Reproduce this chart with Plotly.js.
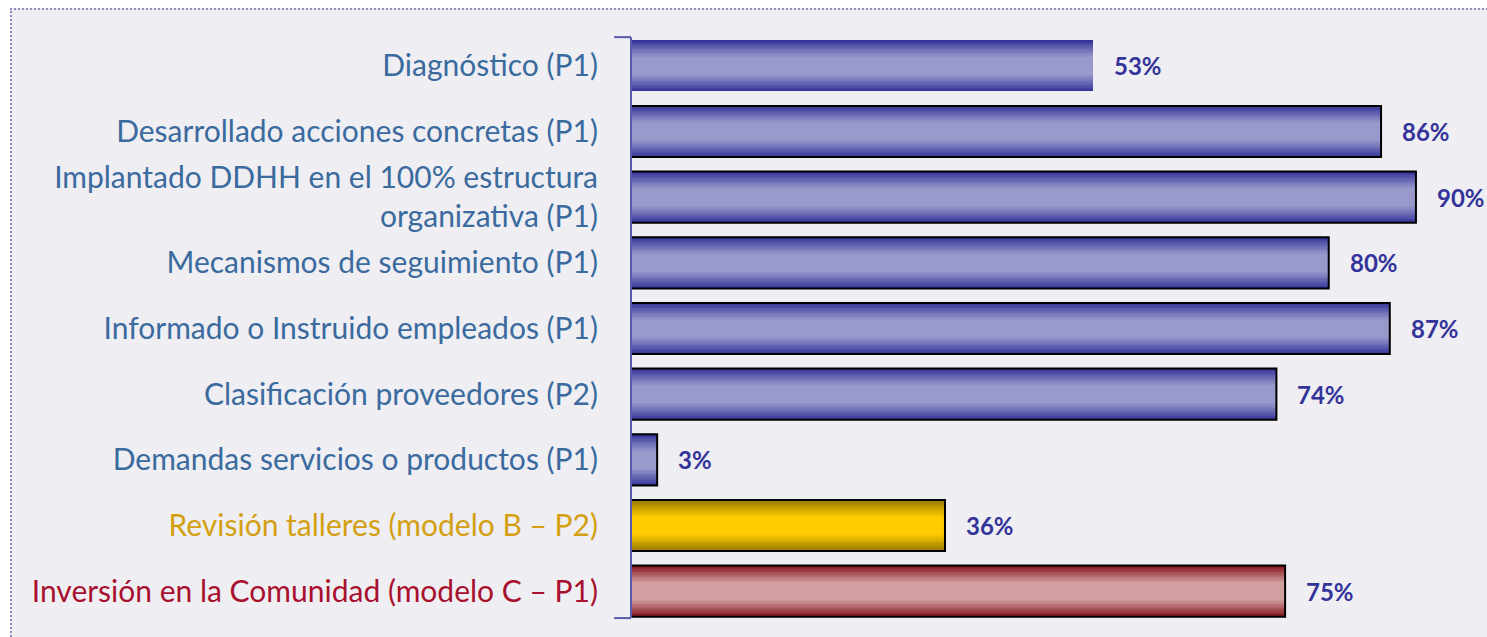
<!DOCTYPE html>
<html>
<head>
<meta charset="utf-8">
<script src="https://cdn.plot.ly/plotly-3.0.1.min.js"></script>
<style>
  html, body { margin: 0; padding: 0; background: #ffffff; }
  #frame { position: absolute; left: 10px; top: 8px; width: 1490px; height: 640px;
           border: 2px dotted #8c8cbf; background: #eeeef3; box-sizing: border-box; }
  #chart { position: absolute; left: 0; top: 0; width: 1487px; height: 637px; }
</style>
</head>
<body>
<div id="frame"></div>
<div id="chart"></div>
<script>
// ---- data ----
const categories = [
  "Diagnóstico (P1)",
  "Desarrollado acciones concretas (P1)",
  "Implantado DDHH en el 100% estructura<br>organizativa (P1)",
  "Mecanismos de seguimiento (P1)",
  "Informado o Instruido empleados (P1)",
  "Clasificación proveedores (P2)",
  "Demandas servicios o productos (P1)",
  "Revisión talleres (modelo B – P2)",
  "Inversión en la Comunidad (modelo C – P1)"
];
const values = [53, 86, 90, 80, 87, 74, 3, 36, 75];
const valueLabels = ["53%", "86%", "90%", "80%", "87%", "74%", "3%", "36%", "75%"];
const groups = ["P", "P", "P", "P", "P", "P", "P", "B", "C"];

// ---- styles ----
const palette = {
  P: { dark: [51, 51, 153], light: [153, 153, 204], label: "#3a6a9e" },
  B: { dark: [150, 118, 0], light: [255, 204, 0], label: "#d4a011" },
  C: { dark: [130, 16, 24], light: [210, 160, 160], label: "#a8102e" }
};
const outlineWidths = categories.map((c, i) => i === 0 ? 0 : 2);
const barWidth = 0.78;

function mix(a, b, t) {
  return "rgb(" + a.map((v, k) => Math.round(v + (b[k] - v) * t)).join(",") + ")";
}

const layers = 14;
const traces = [];
for (let L = 0; L < layers; L++) {
  const t = L / (layers - 1);
  const frac = 1 - 0.65 * t;
  const eased = Math.pow(t, 0.9);
  traces.push({
    type: "bar",
    orientation: "h",
    x: values,
    y: categories,
    width: categories.map(() => barWidth * frac),
    marker: {
      color: groups.map(g => mix(palette[g].dark, palette[g].light, eased)),
      line: { width: 0 }
    },
    hoverinfo: "skip",
    showlegend: false
  });
}
// outline on top
traces.push({
  type: "bar",
  orientation: "h",
  x: values,
  y: categories,
  width: categories.map(() => barWidth),
  marker: { color: "rgba(0,0,0,0)", line: { color: "#000000", width: outlineWidths } },
  hoverinfo: "skip",
  showlegend: false
});

const tickText = categories.map((c, i) =>
  '<span style="color:' + palette[groups[i]].label + '">' + c + '</span>');

const annotations = values.map((v, i) => ({
  x: v, y: categories[i], xref: "x", yref: "y",
  text: "<b>" + valueLabels[i] + "</b>",
  showarrow: false, xanchor: "left", yanchor: "middle", xshift: 19,
  font: { family: "Lato, sans-serif", size: 24, color: "#333399" }
}));

const axisColor = "#5a5aaa";
const layout = {
  width: 1487, height: 637,
  margin: { l: 631, r: 10, t: 33, b: 13 },
  paper_bgcolor: "rgba(0,0,0,0)",
  plot_bgcolor: "rgba(0,0,0,0)",
  barmode: "overlay",
  bargap: 0,
  xaxis: { range: [0, 97], visible: false, fixedrange: true },
  yaxis: {
    type: "category",
    autorange: "reversed",
    tickmode: "array",
    tickvals: categories,
    ticktext: tickText,
    ticks: "",
    ticklabelstandoff: 32,
    showline: false,
    showgrid: false, zeroline: false,
    tickfont: { family: "Lato, sans-serif", size: 30, color: "#3a6a9e" }
  },
  shapes: [
    { type: "line", xref: "paper", yref: "paper", x0: 0, x1: 0, y0: 0.01, y1: 0.993,
      line: { color: axisColor, width: 2 } },
    { type: "line", xref: "paper", yref: "paper", x0: -0.02, x1: 0, y0: 0.993, y1: 0.993,
      line: { color: axisColor, width: 2 } },
    { type: "line", xref: "paper", yref: "paper", x0: -0.02, x1: 0, y0: 0.01, y1: 0.01,
      line: { color: axisColor, width: 2 } }
  ],
  annotations: annotations,
  showlegend: false
};

Plotly.newPlot("chart", traces, layout, { staticPlot: true, displayModeBar: false });
</script>
</body>
</html>
